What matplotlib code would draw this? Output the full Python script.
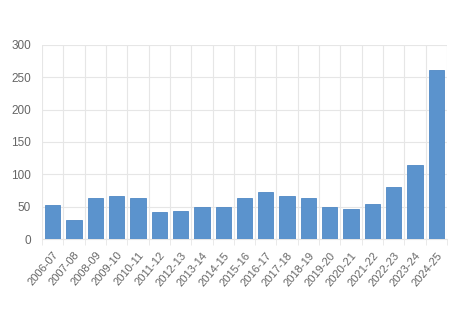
import numpy as np
import matplotlib
matplotlib.use('Agg')
import matplotlib.pyplot as plt

# Season labels and values
seasons = ['2006-07', '2007-08', '2008-09', '2009-10', '2010-11', '2011-12',
           '2012-13', '2013-14', '2014-15', '2015-16', '2016-17', '2017-18',
           '2018-19', '2019-20', '2020-21', '2021-22', '2022-23', '2023-24',
           '2024-25']
values = [52, 30, 63, 67, 63, 42, 44, 50, 49, 64, 72, 66, 64, 50, 46, 54,
          81, 115, 262]
y_ticks = [0, 50, 100, 150, 200, 250, 300]

plt.rcParams['font.family'] = ['Liberation Sans', 'DejaVu Sans']

fig = plt.figure(figsize=(4.65, 3.09), dpi=100)
ax = fig.add_axes([0.0903, 0.2265, 0.871, 0.628])

x = np.arange(len(seasons))
ax.bar(x, values, width=0.72, color='#5b93cd', edgecolor='#4f88c4',
       linewidth=0.6, zorder=3)

ax.set_xlim(-0.5, len(seasons) - 0.5)
ax.set_ylim(0, 300)

# Grid: horizontal at y ticks, vertical at category boundaries
ax.set_yticks(y_ticks)
ax.set_xticks(x)
ax.set_xticks(np.arange(-0.5, len(seasons)), minor=True)
ax.set_xticklabels(seasons, rotation=50, ha='right', rotation_mode='anchor')
ax.grid(axis='y', color='#e6e6e6', linewidth=0.8, zorder=0)
ax.grid(axis='x', which='minor', color='#e6e6e6', linewidth=0.8, zorder=0)

ax.tick_params(axis='x', which='major', length=0, pad=8, labelsize=8,
               labelcolor='#666666')
ax.tick_params(axis='x', which='minor', length=4, color='#e6e6e6')
ax.tick_params(axis='y', length=0, pad=8, labelsize=8.5, labelcolor='#666666')

for side in ['top', 'right', 'left']:
    ax.spines[side].set_visible(False)
ax.spines['bottom'].set_color('#e6e6e6')

fig.savefig('out.png', dpi=100)
